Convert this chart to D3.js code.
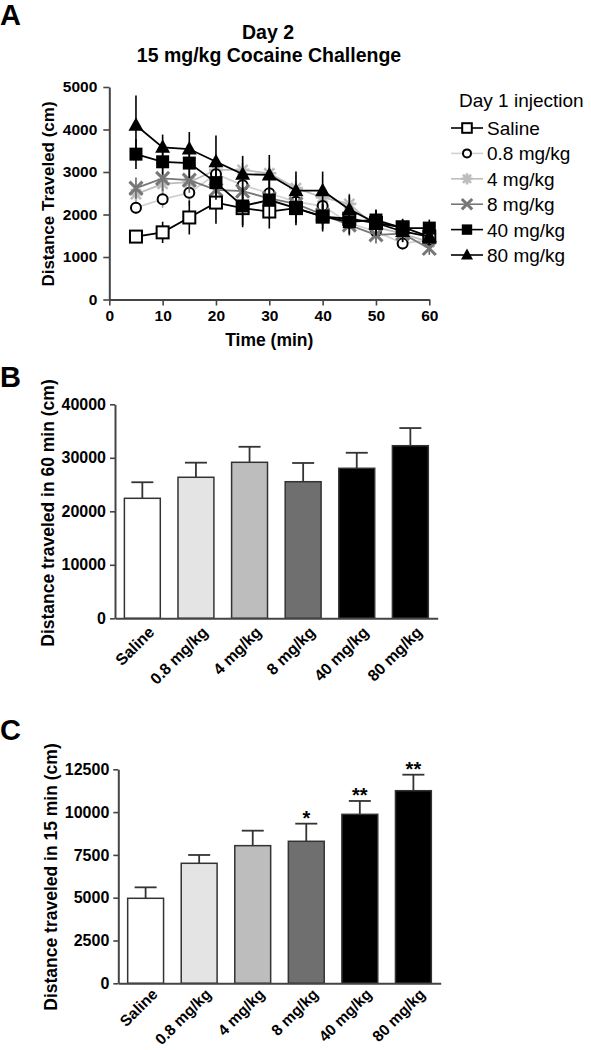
<!DOCTYPE html>
<html>
<head>
<meta charset="utf-8">
<script src="https://cdn.jsdelivr.net/npm/d3@7"></script>
<style>
  html, body { margin: 0; padding: 0; background: #fff; }
  svg { display: block; font-family: "Liberation Sans", Arial, Helvetica, sans-serif; }
</style>
</head>
<body>
<svg id="chart" width="591" height="1050"></svg>
<script>
// ---------- DATA ----------
const times = [5, 10, 15, 20, 25, 30, 35, 40, 45, 50, 55, 60];
const groups = ["Saline", "0.8 mg/kg", "4 mg/kg", "8 mg/kg", "40 mg/kg", "80 mg/kg"];

// Panel A: distance traveled per 5-min bin (cm), mean and SEM
const salineMean = [1480, 1580, 1930, 2280, 2150, 2070, 2150, 1950, 1900, 1800, 1700, 1480];
const salineSem  = [100, 250, 400, 500, 450, 400, 350, 300, 250, 250, 200, 200];
const mg08Mean   = [2160, 2360, 2510, 2950, 2690, 2500, 2300, 2200, 1800, 1600, 1320, 1400];
const mg08Sem    = [150, 200, 300, 350, 300, 300, 300, 250, 250, 200, 150, 150];
const mg4Mean    = [2480, 2720, 2760, 3050, 3050, 2970, 2620, 2400, 2250, 1700, 1550, 1350];
const mg4Sem     = [200, 250, 300, 350, 300, 300, 300, 250, 250, 200, 200, 150];
const mg8Mean    = [2620, 2850, 2810, 2580, 2550, 2380, 2250, 2000, 1750, 1520, 1550, 1200];
const mg8Sem     = [250, 300, 300, 300, 300, 300, 300, 250, 250, 200, 200, 150];
const mg40Mean   = [3420, 3240, 3210, 2750, 2200, 2340, 2150, 1950, 1830, 1870, 1680, 1680];
const mg40Sem    = [350, 300, 350, 400, 450, 450, 400, 350, 300, 250, 200, 200];
const mg80Mean   = [4100, 3580, 3540, 3240, 2950, 2930, 2560, 2560, 2120, 1800, 1600, 1480];
const mg80Sem    = [700, 300, 400, 620, 430, 470, 450, 450, 350, 300, 250, 200];

const timeTicks = [0, 10, 20, 30, 40, 50, 60];
const distTicksA = [0, 1000, 2000, 3000, 4000, 5000];

// Panel B: total distance in 60 min
const total60Mean = [22430, 26360, 29160, 25530, 28040, 32260];
const total60Sem  = [3000, 2730, 2900, 3500, 2900, 3300];
const ticksB = [0, 10000, 20000, 30000, 40000];

// Panel C: distance in first 15 min
const first15Mean = [4965, 7010, 8040, 8295, 9870, 11250];
const first15Sem  = [640, 485, 875, 1030, 780, 935];
const first15Sig  = ["", "", "", "*", "**", "**"];
const ticksC = [0, 2500, 5000, 7500, 10000, 12500];

// ---------- STYLE ----------
const barFill = ["#ffffff", "#e4e4e4", "#bdbdbd", "#6f6f6f", "#000000", "#000000"];
const lineColor = ["#000000", "#d2d2d2", "#bdbdbd", "#777777", "#000000", "#000000"];
const markerType = ["openSquare", "openCircle", "asterisk", "cross", "square", "triangle"];
const axisColor = "#444";
const fmt = d3.format("d");

const svg = d3.select("#chart");

function styleAxis(g) {
  g.selectAll(".domain").attr("stroke", axisColor).attr("stroke-width", 2);
  g.selectAll(".tick line").attr("stroke", axisColor).attr("stroke-width", 1.6);
  g.selectAll(".tick text").attr("fill", "#000").attr("font-weight", "bold")
    .attr("font-family", "Liberation Sans, Arial, sans-serif");
}

function drawMarker(g, type, x, y, scale, color) {
  const s = scale;
  if (type === "openSquare") {
    g.append("rect").attr("x", x - 6 * s).attr("y", y - 6 * s).attr("width", 12 * s).attr("height", 12 * s)
      .attr("fill", "#fff").attr("stroke", "#000").attr("stroke-width", 2);
  } else if (type === "square") {
    g.append("rect").attr("x", x - 6.5 * s).attr("y", y - 6.5 * s).attr("width", 13 * s).attr("height", 13 * s)
      .attr("fill", "#000");
  } else if (type === "openCircle") {
    g.append("circle").attr("cx", x).attr("cy", y).attr("r", 5 * s)
      .attr("fill", "#fff").attr("stroke", "#000").attr("stroke-width", 2);
  } else if (type === "triangle") {
    g.append("path").attr("d", `M${x},${y - 8 * s}L${x + 7.5 * s},${y + 5.5 * s}L${x - 7.5 * s},${y + 5.5 * s}Z`)
      .attr("fill", "#000");
  } else if (type === "cross") {
    const r = 6.5 * s;
    g.append("path").attr("d", `M${x - r},${y - r}L${x + r},${y + r}M${x - r},${y + r}L${x + r},${y - r}`)
      .attr("stroke", "#777").attr("stroke-width", 3).attr("fill", "none");
  } else if (type === "asterisk") {
    const r = 7 * s, d = r * 0.72;
    g.append("path").attr("d",
      `M${x},${y - r}L${x},${y + r}M${x - r},${y}L${x + r},${y}M${x - d},${y - d}L${x + d},${y + d}M${x - d},${y + d}L${x + d},${y - d}`)
      .attr("stroke", "#bdbdbd").attr("stroke-width", 2.6).attr("fill", "none");
  }
}

// ---------- PANEL A ----------
const xA = d3.scaleLinear().domain([0, 60]).range([109.3, 429.3]);
const yA = d3.scaleLinear().domain([0, 5000]).range([299.5, 87]);

svg.append("text").attr("x", 0).attr("y", 25).attr("font-size", 29).attr("font-weight", "bold").text("A");
svg.append("text").attr("x", 268).attr("y", 39).attr("text-anchor", "middle")
  .attr("font-size", 19.5).attr("font-weight", "bold").text("Day 2");
svg.append("text").attr("x", 269).attr("y", 62).attr("text-anchor", "middle")
  .attr("font-size", 19.5).attr("font-weight", "bold").text("15 mg/kg Cocaine Challenge");

const gAx = svg.append("g").attr("transform", `translate(0,${yA(0)})`)
  .call(d3.axisBottom(xA).tickValues(timeTicks).tickFormat(fmt).tickSize(6).tickSizeOuter(0).tickPadding(4));
gAx.selectAll(".tick text").attr("font-size", 15.5);
styleAxis(gAx);
const gAy = svg.append("g").attr("transform", `translate(${xA(0)},0)`)
  .call(d3.axisLeft(yA).tickValues(distTicksA).tickFormat(fmt).tickSize(6).tickSizeOuter(0).tickPadding(6));
gAy.selectAll(".tick text").attr("font-size", 15.5);
styleAxis(gAy);

svg.append("text").attr("transform", `translate(54,${194}) rotate(-90)`).attr("text-anchor", "middle")
  .attr("font-size", 17).attr("font-weight", "bold").text("Distance Traveled (cm)");
svg.append("text").attr("x", xA(30)).attr("y", 346).attr("text-anchor", "middle")
  .attr("font-size", 17.5).attr("font-weight", "bold").text("Time (min)");

const seriesA = [
  { mean: salineMean, sem: salineSem },
  { mean: mg08Mean, sem: mg08Sem },
  { mean: mg4Mean, sem: mg4Sem },
  { mean: mg8Mean, sem: mg8Sem },
  { mean: mg40Mean, sem: mg40Sem },
  { mean: mg80Mean, sem: mg80Sem }
];
const drawOrder = [2, 1, 3, 0, 4, 5];
const line = d3.line().x(d => xA(d.t)).y(d => yA(d.v));
const gLines = svg.append("g");
drawOrder.forEach(i => {
  const s = seriesA[i];
  const pts = times.map((t, k) => ({ t, v: s.mean[k], e: s.sem[k] }));
  const g = gLines.append("g");
  g.selectAll("line.err").data(pts).enter().append("line")
    .attr("x1", d => xA(d.t)).attr("x2", d => xA(d.t))
    .attr("y1", d => yA(d.v - d.e)).attr("y2", d => yA(d.v + d.e))
    .attr("stroke", i === 2 ? "#bbb" : (i === 1 ? "#999" : (i === 3 ? "#666" : "#000"))).attr("stroke-width", 1.6);
  g.append("path").datum(pts).attr("d", line).attr("fill", "none")
    .attr("stroke", lineColor[i]).attr("stroke-width", 1.8);
  pts.forEach(p => drawMarker(g, markerType[i], xA(p.t), yA(p.v), 1, lineColor[i]));
});

// Legend
svg.append("text").attr("x", 459).attr("y", 107).attr("font-size", 19).text("Day 1 injection");
groups.forEach((name, i) => {
  const cy = 128 + i * 25.4;
  const g = svg.append("g");
  g.append("line").attr("x1", 451).attr("x2", 483).attr("y1", cy).attr("y2", cy)
    .attr("stroke", lineColor[i]).attr("stroke-width", 1.6);
  drawMarker(g, markerType[i], 467, cy, 0.8, lineColor[i]);
  g.append("text").attr("x", 487).attr("y", cy + 7).attr("font-size", 19).text(name);
});

// ---------- BAR PANELS ----------
function barPanel(opts) {
  const { top, bottom, left, right, domainMax, ticks, means, sems, sig, title, titleX, titleY, letterY, labelSize, labelShift } = opts;
  const x = d3.scaleBand().domain(groups).range([left, right]).paddingInner(0.33).paddingOuter(0.175);
  const y = d3.scaleLinear().domain([0, domainMax]).range([bottom, top]);

  svg.append("text").attr("x", 0).attr("y", letterY).attr("font-size", 29).attr("font-weight", "bold").text(opts.letter);

  const g = svg.append("g");
  groups.forEach((gname, i) => {
    const cx = x(gname) + x.bandwidth() / 2;
    g.append("line").attr("x1", cx).attr("x2", cx).attr("y1", y(means[i])).attr("y2", y(means[i] + sems[i]))
      .attr("stroke", "#333").attr("stroke-width", 1.8);
    g.append("line").attr("x1", cx - 11).attr("x2", cx + 11).attr("y1", y(means[i] + sems[i])).attr("y2", y(means[i] + sems[i]))
      .attr("stroke", "#333").attr("stroke-width", 1.8);
    if (sig && sig[i]) {
      g.append("text").attr("x", cx).attr("y", y(means[i] + sems[i]) + 1.5).attr("text-anchor", "middle")
        .attr("font-size", 20).attr("font-weight", "bold").text(sig[i]);
    }
  });
  g.selectAll("rect").data(groups).enter().append("rect")
    .attr("x", d => x(d)).attr("width", x.bandwidth())
    .attr("y", (d, i) => y(means[i])).attr("height", (d, i) => y(0) - y(means[i]))
    .attr("fill", (d, i) => barFill[i]).attr("stroke", "#333").attr("stroke-width", 1.5);

  const gy = svg.append("g").attr("transform", `translate(${left},0)`)
    .call(d3.axisLeft(y).tickValues(ticks).tickFormat(fmt).tickSize(5).tickSizeOuter(0).tickPadding(4));
  gy.selectAll(".tick text").attr("font-size", 16);
  styleAxis(gy);
  const gx = svg.append("g").attr("transform", `translate(0,${bottom})`)
    .call(d3.axisBottom(x).tickSize(0).tickSizeOuter(0));
  styleAxis(gx);
  gx.selectAll(".tick text").attr("font-size", labelSize)
    .attr("text-anchor", "end").attr("dy", null).attr("y", 0)
    .attr("transform", `translate(5,${labelShift}) rotate(-45)`)
    .attr("dominant-baseline", "hanging");

  svg.append("text").attr("transform", `translate(${titleX},${titleY}) rotate(-90)`).attr("text-anchor", "middle")
    .attr("font-size", 17.5).attr("font-weight", "bold").text(title);
}

barPanel({
  letter: "B", letterY: 387,
  top: 404.3, bottom: 618.3, left: 115, right: 437.7, domainMax: 40000, ticks: ticksB,
  means: total60Mean, sems: total60Sem, sig: null,
  title: "Distance traveled in 60 min (cm)", titleX: 54, titleY: 513,
  labelSize: 16, labelShift: 7
});

barPanel({
  letter: "C", letterY: 740,
  top: 769.3, bottom: 983.3, left: 118.3, right: 440.7, domainMax: 12500, ticks: ticksC,
  means: first15Mean, sems: first15Sem, sig: first15Sig,
  title: "Distance traveled in 15 min (cm)", titleX: 57, titleY: 877,
  labelSize: 15.5, labelShift: 4
});
</script>
</body>
</html>
